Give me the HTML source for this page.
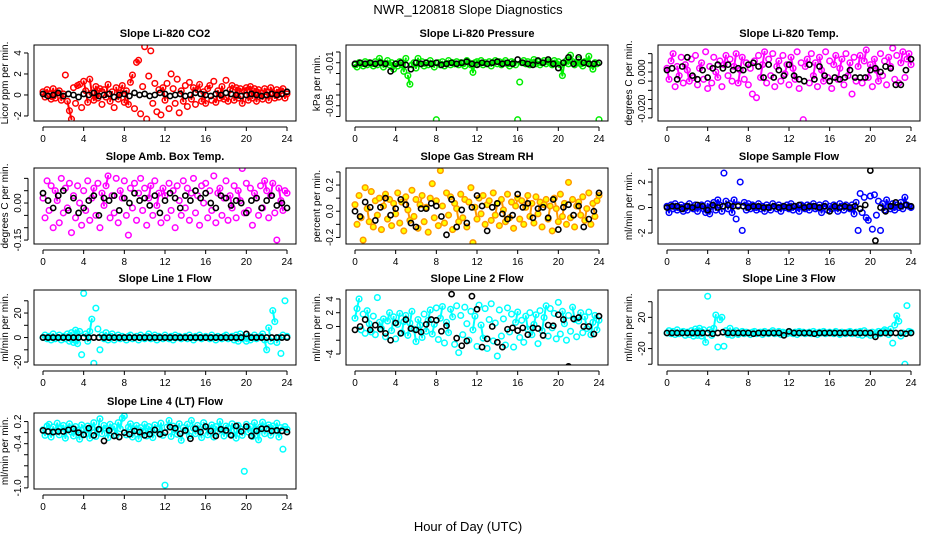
<!DOCTYPE html>
<html><head><meta charset="utf-8"><style>
html,body{margin:0;padding:0;background:#fff}
svg{display:block;font-family:"Liberation Sans",sans-serif}
</style></head><body>
<svg id="chart" width="936" height="540" viewBox="0 0 936 540" xmlns="http://www.w3.org/2000/svg">
<text x="468" y="14" font-size="13" text-anchor="middle">NWR_120818  Slope Diagnostics</text>
<text x="468" y="531" font-size="13" text-anchor="middle">Hour of Day (UTC)</text>
</svg>
<script>
const xTicks=[0,4,8,12,16,20,24];
const titles=["Slope Li-820 CO2","Slope Li-820 Pressure","Slope Li-820 Temp.","Slope Amb. Box Temp.","Slope Gas Stream RH","Slope Sample Flow","Slope Line 1 Flow","Slope Line 2 Flow","Slope Line 3 Flow","Slope Line 4 (LT) Flow"];
const yTitles=["Licor ppm per min.","kPa per min.","degrees C per min.","degrees C per min.","percent per min.","ml/min per min.","ml/min per min.","ml/min per min.","ml/min per min.","ml/min per min."];
const yTickVals=[[-2,0,2,4],[0,-0.01,-0.02,-0.03,-0.04,-0.05,-0.06],[0.01,0.005,0,-0.005,-0.01,-0.015,-0.02,-0.025],[0.1,0.05,0,-0.05,-0.1,-0.15],[-0.2,-0.1,0,0.1,0.2,0.3],[-2,-1,0,1,2,3],[-20,-10,0,10,20,30],[-4,-2,0,2,4],[-40,-20,0,20,40],[0.2,0,-0.2,-0.4,-0.6,-0.8,-1.0]];
const yTickLabels=[["-2","0","2","4"],["","-0.01","","","","-0.05",""],["","","0.000","","","","-0.020",""],["","","0.00","","","-0.15"],["-0.2","","0.0","","0.2",""],["-2","","0","","2",""],["-20","","0","","20",""],["-4","","0","2","4"],["","-20","","20",""],["0.2","","-0.4","","","","-1.0"]];
const yMin=[-2.48,-0.0642,-0.0267,-0.166,-0.25,-2.86,-22.4,-5.6,-41,-1.02];
const yMax=[4.76,0.0065,0.0147,0.142,0.33,3.1,38.8,5.3,55,0.355];
const colors=["#ff0000","#00ee00","#ff00ff","#ff00ff","#ff9900","#0000ff","#00ffff","#00ffff","#00ffff","#00ffff"];

const co2=[0.3,-0.2,0.5,0.1,-0.4,0.6,-0.3,0.2,0.4,-0.5,0.1,1.9,-0.6,-1.5,-2.3,0.7,-0.8,0.9,1.0,-1.2,1.3,0.4,-0.7,1.5,0.2,-0.5,0.8,-0.3,0.6,-0.9,0.5,-0.2,1.0,-0.6,0.3,-1.2,0.7,-0.4,0.2,0.9,-0.7,0.4,-0.9,1.2,1.9,-1.3,3.1,3.3,-1.8,0.8,4.6,-2.3,1.8,4.2,-0.8,1.1,-1.6,0.5,-1.9,0.7,-0.5,1.1,-1.3,2.0,0.6,-0.8,1.5,-1.7,0.4,-0.6,0.9,-1.1,1.2,-0.4,0.7,-0.9,0.5,1.0,-0.6,0.3,-0.8,0.6,0.9,-0.5,1.3,-0.7,0.4,-0.3,0.8,-0.4,1.4,-0.6,0.5,0.9,-0.5,0.7,-0.3,0.6,-0.8,0.4,0.7,-0.5,0.8,-0.3,0.6,-0.6,0.5,0.2,-0.4,0.6,0.3,-0.5,0.7,0.2,-0.3,0.5,-0.2,0.4,0.6,-0.3,0.1];
const co2Mean=[0.1,-0.1,0.0,0.2,-0.1,0.1,0.0,-0.2,0.1,0.0,0.2,-0.1,0.0,0.1,-0.2,0.0,0.1,-0.1,0.2,0.0,0.1,-0.1,0.0,0.2,0.1,-0.1,0.0,0.1,-0.1,0.0,0.2,0.1,0.0,-0.1,0.1,0.0,0.2,0.1,0.0,-0.1,0.0,0.1,0.0,-0.1,0.0,0.1,0.0,0.1,0.3];
const press=[-0.012,-0.014,-0.010,-0.011,-0.013,-0.009,-0.012,-0.010,-0.011,-0.013,-0.009,-0.012,-0.006,-0.010,-0.014,-0.011,-0.008,-0.012,-0.010,-0.016,-0.011,-0.013,-0.009,-0.012,-0.018,-0.006,-0.022,-0.030,-0.012,-0.010,-0.015,-0.006,-0.011,-0.009,-0.013,-0.010,-0.012,-0.008,-0.011,-0.014,-0.063,-0.010,-0.012,-0.009,-0.013,-0.011,-0.008,-0.012,-0.010,-0.011,-0.009,-0.012,-0.010,-0.011,-0.013,-0.008,-0.010,-0.012,-0.019,-0.010,-0.009,-0.011,-0.008,-0.012,-0.010,-0.011,-0.009,-0.013,-0.010,-0.008,-0.011,-0.009,-0.012,-0.010,-0.008,-0.011,-0.013,-0.009,-0.010,-0.012,-0.063,-0.028,-0.010,-0.008,-0.011,-0.009,-0.012,-0.010,-0.007,-0.011,-0.009,-0.012,-0.010,-0.008,-0.011,-0.009,-0.010,-0.012,-0.008,-0.011,-0.009,-0.012,-0.022,-0.010,-0.008,-0.011,-0.003,-0.009,-0.012,-0.010,-0.007,-0.011,-0.013,-0.009,-0.010,-0.004,-0.012,-0.016,-0.010,-0.011,-0.063];
const pressMean=[-0.011,-0.010,-0.011,-0.010,-0.011,-0.010,-0.011,-0.018,-0.011,-0.010,-0.012,-0.016,-0.010,-0.011,-0.010,-0.011,-0.010,-0.012,-0.011,-0.010,-0.011,-0.010,-0.009,-0.011,-0.012,-0.010,-0.011,-0.010,-0.009,-0.011,-0.010,-0.011,-0.007,-0.010,-0.011,-0.012,-0.008,-0.010,-0.007,-0.011,-0.015,-0.010,-0.005,-0.011,-0.005,-0.010,-0.011,-0.011,-0.010];
const temp=[0.002,-0.004,0.006,0.010,-0.008,0.003,-0.002,0.008,-0.006,0.004,0.001,-0.005,0.007,-0.003,0.009,-0.007,0.002,0.005,-0.004,0.011,-0.009,0.003,-0.006,0.008,0.000,-0.003,0.006,-0.008,0.004,0.009,-0.002,0.007,-0.005,0.003,0.010,-0.006,0.001,0.008,-0.004,0.005,-0.007,0.002,-0.012,0.006,-0.014,0.009,-0.003,0.004,0.011,-0.006,0.007,-0.002,0.010,-0.008,0.003,0.006,-0.005,0.009,-0.001,0.004,-0.007,0.008,0.002,-0.004,0.011,-0.009,0.005,-0.026,0.003,0.007,-0.006,0.010,-0.002,0.005,-0.008,0.008,0.001,-0.005,0.011,-0.003,0.006,-0.009,0.004,0.009,-0.004,0.002,0.007,-0.007,0.010,-0.002,0.005,-0.012,0.008,-0.005,0.003,0.009,-0.006,0.006,0.012,-0.003,0.004,-0.008,0.007,0.001,-0.005,0.010,-0.002,0.006,-0.007,0.008,0.003,0.013,-0.004,0.009,-0.006,0.005,0.011,-0.003,0.007,0.010,0.004];
const tempMean=[0.001,0.002,-0.004,0.003,0.008,-0.002,-0.004,0.001,-0.003,0.002,0.004,0.002,0.004,0.001,0.002,0.001,0.004,0.005,0.003,-0.003,0.004,-0.003,0.001,-0.002,0.004,-0.002,-0.004,-0.005,0.004,-0.004,0.003,-0.002,-0.005,-0.003,-0.004,-0.003,0.001,-0.003,-0.003,-0.003,0.001,0.002,0.000,0.003,0.002,-0.007,-0.007,0.001,0.007];
const amb=[0.02,-0.06,0.09,-0.03,0.07,-0.10,0.05,0.01,-0.08,0.10,-0.04,0.06,-0.02,0.08,-0.12,0.03,-0.06,0.07,0.00,-0.09,0.05,-0.03,0.09,-0.07,0.02,0.06,-0.05,0.08,-0.10,0.04,-0.01,0.07,0.11,-0.06,0.03,-0.04,0.10,-0.08,0.05,0.02,0.09,-0.05,-0.13,0.06,-0.02,0.08,-0.07,0.04,0.10,-0.03,0.06,-0.09,0.02,0.07,-0.05,0.09,-0.01,0.04,-0.08,0.06,0.03,-0.06,0.08,-0.03,0.05,-0.10,0.07,0.01,-0.05,0.09,-0.02,0.06,-0.07,0.04,0.10,-0.04,0.03,-0.09,0.07,0.00,0.08,-0.06,0.05,-0.03,0.11,-0.08,0.04,0.06,-0.05,0.02,0.09,-0.07,0.03,-0.02,0.07,-0.06,0.05,0.01,0.14,-0.04,0.08,-0.03,0.06,-0.09,0.04,0.02,-0.05,0.07,-0.02,0.09,0.05,-0.06,0.03,0.08,-0.04,-0.15,0.06,0.01,-0.03,0.05,0.04];
const ambMean=[0.04,0.01,-0.02,0.03,0.05,-0.03,0.02,-0.04,-0.02,0.01,0.03,-0.05,0.02,0.01,0.03,-0.03,0.02,0.00,0.04,0.01,0.02,-0.01,0.03,-0.04,0.01,0.04,0.02,-0.02,0.03,0.01,0.05,0.02,0.04,0.00,-0.02,0.03,0.02,-0.01,0.01,0.00,-0.04,0.01,0.02,-0.02,0.01,0.03,-0.01,0.00,-0.02];
const rh=[0.05,-0.10,0.12,-0.05,-0.22,0.18,0.02,-0.08,0.15,-0.12,0.08,-0.03,0.10,-0.14,0.04,0.13,-0.06,0.09,-0.11,0.06,-0.02,0.14,-0.09,0.07,-0.15,0.11,0.01,-0.07,0.16,-0.04,0.09,-0.13,0.05,0.12,-0.08,0.03,-0.16,0.10,0.21,-0.05,0.08,-0.11,0.31,0.04,-0.09,0.14,-0.03,0.11,-0.14,0.06,0.02,-0.08,0.13,-0.05,0.09,-0.12,0.07,0.18,-0.24,0.03,-0.06,0.10,-0.02,0.12,-0.10,0.05,0.08,-0.07,0.14,-0.03,0.06,-0.11,0.09,0.01,-0.08,0.13,-0.05,0.07,-0.13,0.04,0.10,-0.06,0.08,-0.10,0.03,0.12,-0.04,0.06,-0.09,0.11,-0.02,0.07,-0.12,0.05,0.09,-0.06,0.04,-0.15,0.10,0.02,-0.08,0.13,-0.04,0.06,-0.10,0.22,-0.05,0.09,-0.12,0.04,0.07,-0.03,0.11,-0.07,0.02,0.14,-0.10,0.06,-0.04,0.08,0.12];
const rhMean=[0.00,-0.04,0.07,0.03,-0.07,0.03,0.10,-0.03,0.02,0.09,0.05,-0.09,-0.12,0.02,0.02,0.06,0.04,-0.04,-0.18,0.09,-0.12,0.01,-0.09,0.03,0.12,0.04,-0.15,0.03,0.06,-0.02,-0.06,-0.03,0.13,0.03,0.06,-0.05,0.02,0.03,-0.05,0.09,-0.14,0.03,0.05,-0.03,0.04,-0.12,-0.06,0.00,0.14];
const sample=[0.1,-0.4,0.2,-0.1,0.3,-0.2,0.0,0.2,-0.3,0.1,-0.2,0.3,0.0,-0.1,0.2,-0.3,0.1,0.2,-0.1,-0.4,0.3,-0.5,0.1,0.4,-0.2,0.6,0.2,-0.3,2.7,0.5,-0.1,0.3,-0.4,0.6,-0.9,0.2,2.0,-1.8,0.4,-0.2,0.3,-0.1,0.2,0.0,-0.2,0.3,-0.1,0.1,-0.3,0.2,0.0,-0.2,0.3,0.1,-0.1,0.2,-0.3,0.1,0.0,0.2,-0.1,0.3,-0.2,0.1,0.0,-0.3,0.2,0.1,-0.1,0.2,-0.2,0.1,0.3,-0.1,0.0,0.2,-0.4,0.1,0.3,-0.2,0.1,-0.1,0.2,0.0,-0.3,0.3,0.1,-0.2,0.2,0.0,-0.1,0.2,-0.5,0.4,-1.8,1.1,-0.4,0.8,-0.8,-1.0,0.9,-1.7,1.0,-0.6,0.5,-1.8,0.3,-0.2,0.6,0.1,-0.1,0.3,-0.2,0.2,0.0,0.4,-0.1,0.8,0.2,0.1,0.0];
const sampleMean=[0.0,0.1,0.1,-0.1,0.1,0.0,0.2,0.1,-0.2,0.2,0.0,0.1,0.2,0.1,0.1,0.1,0.0,0.1,0.1,0.0,0.0,0.1,0.0,0.1,0.0,0.1,0.2,0.0,0.1,0.1,0.0,0.1,-0.3,0.1,0.0,0.1,0.0,0.1,-0.1,0.2,2.9,-2.6,0.0,-0.3,0.1,0.4,0.1,0.2,0.1];
const line1=[0,2,-1,1,-2,3,-1,0,2,-2,1,-1,3,-3,4,-4,6,-5,5,-14,36,3,-3,5,15,-21,24,7,-10,2,-1,4,-2,1,3,-2,0,2,-1,1,0,-2,1,2,-1,0,1,-2,2,0,-1,1,3,-1,0,2,-2,1,0,-1,2,0,-1,1,-2,2,0,1,-1,0,1,-1,2,0,-2,1,0,2,-1,0,1,0,-1,2,0,-2,1,0,-1,1,2,-1,0,1,-2,2,-3,3,-1,0,-3,1,-2,0,2,-1,0,1,3,-2,-10,8,-3,22,13,-4,0,-13,2,30,1];
const line1Mean=[0,0,0,0,0,0,0,0,0,0,0,0,0,0,0,0,0,0,0,0,0,0,0,0,0,0,0,0,0,0,0,0,0,0,0,0,0,0,0,0,3,0,0,0,0,0,0,0,0];
const line2=[1.2,2.6,4.0,-0.5,1.8,-1.0,2.3,0.4,-0.8,1.5,-1.2,4.2,0.6,-0.3,1.1,-1.5,0.8,2.0,-0.6,1.4,-1.8,0.3,1.9,-0.9,0.7,1.6,-1.3,0.5,2.2,-0.4,-2.2,1.0,0.2,-1.6,1.8,-0.7,0.9,2.4,-1.1,0.3,2.7,-1.9,1.2,2.9,-2.4,0.6,-0.9,2.5,1.4,-2.6,3.0,-3.8,1.6,-1.2,2.8,0.4,-2.0,2.2,-0.5,1.5,-2.9,3.1,0.2,-1.7,2.6,-3.2,1.0,3.3,-2.1,0.5,-4.3,2.4,-1.4,1.1,-2.7,2.7,-0.8,1.8,-3.0,0.6,2.1,-1.6,0.9,-2.3,1.5,-0.4,2.0,-1.2,0.3,1.7,-2.5,2.3,-0.6,1.3,3.0,-1.4,2.6,-0.2,1.9,-1.8,3.5,-1.1,2.2,0.4,-2.0,1.6,-0.7,2.8,1.0,-1.5,0.8,2.0,-0.9,1.4,-0.3,2.1,-1.2,0.6,1.6,-0.5,0.9];
const line2Mean=[-0.5,0.0,1.0,-0.5,0.2,-0.4,-1.0,-2.0,0.5,-1.0,1.0,-0.3,-0.5,-0.8,0.3,1.0,0.9,-0.7,0.1,4.7,-1.7,-2.8,-2.1,4.4,2.5,-3.0,-1.8,0.0,-2.3,-3.0,-0.4,-0.2,-0.6,-0.2,-1.2,-0.2,-0.3,-1.3,0.2,0.1,1.7,1.0,-5.8,1.1,1.3,0.0,0.0,-1.1,1.5];
const line3=[0,3,-1,2,-2,4,-1,1,2,-3,1,-2,3,-4,5,-3,6,-4,4,-12,47,4,-3,6,23,-18,17,20,-17,3,-2,6,-3,1,3,-2,0,2,-1,1,0,-2,1,2,-1,0,1,-2,2,0,-1,1,3,-1,0,2,-2,1,0,-1,2,0,-1,1,-2,2,0,1,-1,0,1,-1,2,0,-2,1,0,2,-1,0,1,0,-1,2,0,-2,1,0,-1,1,2,-1,0,1,-2,2,-3,3,-1,0,-3,1,-2,0,2,-1,2,4,3,-2,5,-13,10,22,15,-4,0,-40,35,2,1];
const line3Mean=[0,0,0,0,0,0,0,0,0,-1,0,1,0,0,0,0,0,-1,0,0,0,0,0,-3,2,0,0,0,0,-1,0,0,0,0,0,0,0,0,0,0,0,-5,0,0,0,0,0,-1,0];
const line4=[0.05,-0.05,0.12,0.15,-0.08,0.10,0.02,0.17,-0.04,0.08,0.13,-0.10,0.06,0.16,0.01,-0.06,0.11,0.04,-0.12,0.14,0.07,-0.03,0.12,-0.10,0.09,0.18,-0.07,0.05,0.25,-0.02,0.13,0.08,-0.09,0.15,0.03,0.11,-0.05,0.18,0.07,0.26,0.30,-0.04,0.10,0.16,-0.08,0.06,0.13,-0.11,0.09,0.02,0.15,-0.06,0.11,0.04,-0.09,0.14,0.07,0.00,0.17,-0.05,-0.95,0.10,0.22,-0.07,0.12,0.05,-0.03,0.16,-0.14,0.09,0.03,0.15,-0.06,0.22,0.08,-0.02,0.13,0.06,-0.09,0.18,0.10,-0.04,0.07,0.14,-0.08,0.11,0.02,0.20,0.05,-0.06,0.12,0.09,-0.03,0.16,0.04,-0.10,0.13,0.07,-0.05,-0.70,0.15,0.01,0.11,-0.07,0.18,0.06,-0.13,0.10,0.19,-0.02,0.08,0.14,-0.05,0.12,0.03,0.17,-0.08,0.09,-0.30,0.11,0.06];
const line4Mean=[0.04,0.02,0.01,0.02,0.02,0.05,0.07,0.00,-0.04,0.08,-0.05,0.06,-0.15,0.04,-0.06,-0.08,0.00,-0.03,0.03,0.01,-0.05,-0.03,0.05,-0.03,0.00,0.10,0.08,-0.02,0.04,-0.11,0.07,0.01,0.11,0.03,-0.06,0.06,0.04,-0.05,0.12,0.02,0.11,-0.06,0.03,0.07,0.07,0.03,0.04,0.03,0.01];

const series=[co2,press,temp,amb,rh,sample,line1,line2,line3,line4];
const means=[co2Mean,pressMean,tempMean,ambMean,rhMean,sampleMean,line1Mean,line2Mean,line3Mean,line4Mean];
const names=["co2","pressure","licor-temp","amb-box-temp","gas-stream-rh","sample-flow","line1-flow","line2-flow","line3-flow","line4-flow"];

const NS="http://www.w3.org/2000/svg";
const svg=document.getElementById("chart");
const colL=[34,346,658], rowT=[45,168,290,413], rowH=[76,76,75,76], W=262;
const SEG_MAX=14;
function mk(tag,attrs,parent){const e=document.createElementNS(NS,tag);for(const k in attrs)e.setAttribute(k,attrs[k]);parent.appendChild(e);return e;}

for(let p=0;p<10;p++){
  const L=colL[p%3], T=rowT[Math.floor(p/3)], H=rowH[Math.floor(p/3)], B=T+H;
  const xs=h=>L+9+h*(W-18)/24;
  const ys=v=>B-(v-yMin[p])/(yMax[p]-yMin[p])*H;
  const g=mk("g",{},svg);
  
  
  const t=mk("text",{x:L+W/2,y:T-8,"font-size":11,"font-weight":"bold","text-anchor":"middle"},g);
  t.textContent=titles[p];
  
  
  const yt=mk("text",{x:0,y:0,"font-size":10,"text-anchor":"middle",transform:`translate(${L-26},${T+H/2}) rotate(-90)`},g);
  yt.textContent=yTitles[p];
  
  
  const cid="clip"+p;
  const cp=mk("clipPath",{id:cid},g);
  mk("rect",{x:L,y:T,width:W,height:H},cp);
  const pts=mk("g",{"clip-path":`url(#${cid})`},g);
  const col=colors[p];
  const s=series[p];
  let d="";
  for(let i=1;i<s.length;i++){
    const x0=xs((i-1)*24/(s.length-1)),y0=ys(s[i-1]),x1=xs(i*24/(s.length-1)),y1=ys(s[i]);
    if(Math.abs(y1-y0)<SEG_MAX) d+=`M${x0},${y0}L${x1},${y1}`;
  }
  const band=mk("path",{d:d,fill:"none",stroke:col,"stroke-width":2,"stroke-linecap":"round"},pts);
  
  
  for(let i=0;i<s.length;i++){
    const c=mk("circle",{cx:xs(i*24/(s.length-1)),cy:ys(s[i]),r:2.8,fill:p===4?"#ffff00":"none",stroke:col,"stroke-width":1.5},pts);
    
    
  }
  const m=means[p];
  for(let i=0;i<m.length;i++){
    const c=mk("circle",{cx:xs(i*24/(m.length-1)),cy:ys(m[i]),r:2.6,fill:"none",stroke:"#000","stroke-width":1.6},pts);
    
    
  }
  const box=mk("rect",{x:L,y:T,width:W,height:H,fill:"none",stroke:"#000","stroke-width":1},g);
  
  
  mk("line",{x1:xs(0),x2:xs(24),y1:B+6,y2:B+6,stroke:"#000"},g);
  xTicks.forEach(h=>{
    mk("line",{x1:xs(h),x2:xs(h),y1:B+6,y2:B+10,stroke:"#000"},g);
    const tl=mk("text",{x:xs(h),y:B+21,"font-size":10,"text-anchor":"middle"},g);
    tl.textContent=h;
    
    
  });
  const yv=yTickVals[p].filter(v=>v>=yMin[p]&&v<=yMax[p]);
  const ya=yv.map(ys);
  mk("line",{x1:L-6,x2:L-6,y1:Math.min(...ya),y2:Math.max(...ya),stroke:"#000"},g);
  yTickVals[p].forEach((v,k)=>{
    if(v<yMin[p]||v>yMax[p])return;
    const y=ys(v);
    mk("line",{x1:L-10,x2:L-6,y1:y,y2:y,stroke:"#000"},g);
    if(yTickLabels[p][k]){
      const tl=mk("text",{x:0,y:0,"font-size":10,"text-anchor":"middle",transform:`translate(${L-13},${y}) rotate(-90)`},g);
      tl.textContent=yTickLabels[p][k];
      
      
    }
  });
}
</script>
</body></html>
